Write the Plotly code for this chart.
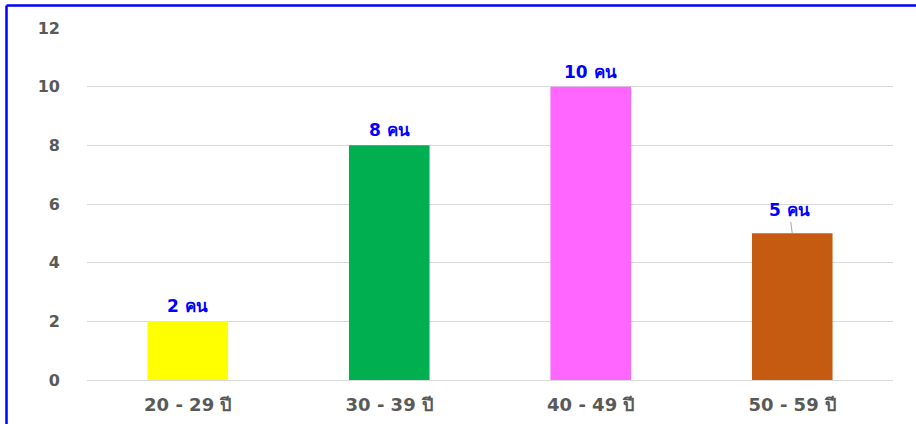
import plotly.graph_objects as go

categories = ["20 - 29 ปี", "30 - 39 ปี", "40 - 49 ปี", "50 - 59 ปี"]
values = [2, 8, 10, 5]
colors = ["#FFFF00", "#00B050", "#FF66FF", "#C55A11"]
labels = ["2 คน", "8 คน", "10 คน", "5 คน"]
y_ticks = [0, 2, 4, 6, 8, 10, 12]

W, H = 916, 424
ml, mr, mt, mb = 87, 23, 28, 44
pw, ph = W - ml - mr, H - mt - mb

fig = go.Figure(go.Bar(
    x=categories, y=values, marker=dict(color=colors, line=dict(width=0)),
    width=0.4, hoverinfo="skip",
))

font_fam = "DejaVu Sans, Tahoma, Noto Sans, sans-serif"
lab_font = dict(color="#0000FF", size=17, family=font_fam, weight="bold")
for i, (c, v, t) in enumerate(zip(categories, values, labels)):
    if i == 3:
        fig.add_annotation(x=c, y=v, text=t, showarrow=True,
                           arrowhead=0, arrowwidth=1, arrowcolor="#A6A6A6",
                           ax=-3, ay=-23, standoff=0, font=lab_font)
    else:
        fig.add_annotation(x=c, y=v, text=t, showarrow=False,
                           yanchor="bottom", yshift=3, font=lab_font)

# blue frame (left and top)
lx = (6.5 - ml) / pw
ty = 1 + (mt - 5.5) / ph
fig.add_shape(type="line", xref="paper", yref="paper", x0=lx, x1=lx, y0=-mb / ph - 0.01, y1=ty,
              line=dict(color="#0000FF", width=2.5))
fig.add_shape(type="line", xref="paper", yref="paper", x0=lx, x1=1 + mr / pw + 0.01, y0=ty, y1=ty,
              line=dict(color="#0000FF", width=2.5))

fig.update_layout(
    width=W, height=H, margin=dict(l=ml, r=mr, t=mt, b=mb, autoexpand=False),
    paper_bgcolor="white", plot_bgcolor="white", showlegend=False,
    bargap=0.6,
    font=dict(family=font_fam, color="#595959"),
    xaxis=dict(showgrid=False, showline=True, linecolor="#D9D9D9", linewidth=1,
               ticks="", ticklabelstandoff=8, automargin=False,
               tickfont=dict(size=18, color="#595959", family=font_fam, weight="bold")),
    yaxis=dict(range=[0, 12], tickvals=y_ticks, showgrid=True, gridcolor="#D9D9D9",
               zeroline=False, showline=False, ticks="", ticklabelstandoff=26, automargin=False,
               tickfont=dict(size=16, color="#595959", family=font_fam, weight="bold")),
)

fig.write_html("out.html", config={"displayModeBar": False},
               post_script="document.body.style.margin='0';")
